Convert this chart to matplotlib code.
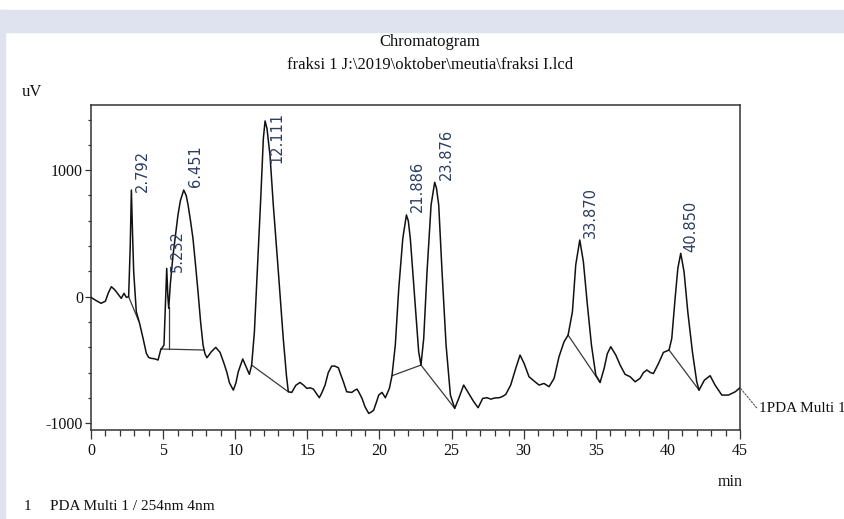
import numpy as np
import matplotlib
matplotlib.use("Agg")
import matplotlib.pyplot as plt
from matplotlib.patches import Rectangle
from matplotlib.transforms import offset_copy
from matplotlib.ticker import MultipleLocator

plt.rcParams["axes.unicode_minus"] = False

# retention time (min) and detector signal (uV)
time_min = [0.0, 0.35, 0.7, 1.0, 1.2, 1.41, 1.6, 1.75, 1.95, 2.1, 2.29, 2.45, 2.61,
            2.72, 2.80, 2.88, 2.96, 3.14, 3.37, 3.61, 3.84, 4.0, 4.18, 4.4, 4.65,
            4.83, 5.06, 5.15, 5.25, 5.33, 5.39, 5.5, 5.69, 5.85, 6.03, 6.2, 6.43,
            6.6, 6.73, 6.9, 7.07, 7.25, 7.42, 7.6, 7.77, 7.9, 8.04, 8.34, 8.65,
            8.95, 9.2, 9.41, 9.6, 9.87, 10.05, 10.21, 10.52, 10.8, 10.98, 11.14,
            11.33, 11.53, 11.77, 11.95, 12.07, 12.2, 12.41, 12.64, 12.99, 13.33,
            13.55, 13.68, 13.92, 14.2, 14.49, 14.75, 14.96, 15.2, 15.42, 15.6,
            15.83, 16.0, 16.23, 16.45, 16.69, 16.9, 17.15, 17.3, 17.5, 17.73,
            18.08, 18.3, 18.45, 18.6, 18.79, 19.0, 19.26, 19.45, 19.6, 19.8,
            19.95, 20.18, 20.41, 20.69, 20.87, 21.1, 21.34, 21.62, 21.87, 22.0,
            22.14, 22.45, 22.72, 22.88, 23.07, 23.3, 23.58, 23.83, 23.95, 24.11,
            24.34, 24.62, 24.92, 25.22, 25.5, 25.84, 26.19, 26.54, 26.84, 27.16,
            27.46, 27.72, 28.0, 28.29, 28.5, 28.76, 29.1, 29.45, 29.75, 30.03,
            30.37, 30.72, 31.07, 31.41, 31.76, 32.11, 32.45, 32.8, 33.08, 33.38,
            33.61, 33.89, 34.14, 34.42, 34.7, 35.0, 35.3, 35.58, 35.8, 36.04,
            36.39, 36.69, 37.03, 37.38, 37.73, 38.07, 38.3, 38.54, 38.8, 39.0,
            39.35, 39.69, 40.08, 40.27, 40.5, 40.69, 40.89, 41.12, 41.38, 41.7,
            42.0, 42.16, 42.53, 42.93, 43.27, 43.74, 44.2, 44.67, 45.0]
signal_uv = [-5, -30, -52, -35, 30, 79, 60, 40, 10, -13, 27, -5, 0,
             400, 843, 500, 198, -118, -211, -329, -448, -480, -487, -490, -500,
             -421, -382, -100, 224, 0, -92, 100, 330, 480, 646, 760, 843,
             800, 725, 600, 461, 250, 40, -200, -382, -450, -482, -435, -400,
             -440, -520, -593, -680, -738, -680, -593, -492, -566, -613, -540,
             -277, 198, 778, 1250, 1389, 1330, 1120, 725, 198, -329,
             -620, -751, -756, -700, -677, -700, -724, -720, -730, -760,
             -798, -760, -698, -600, -548, -548, -561, -610, -672, -751,
             -756, -738, -730, -760, -803, -870, -922, -910, -896, -830,
             -777, -756, -798, -724, -624, -382, 66, 461, 646, 600,
             461, -13, -435, -540, -329, 198, 725, 904, 860, 725,
             198, -382, -777, -882, -803, -698, -764, -830, -877, -803,
             -798, -809, -800, -798, -790, -772, -698, -566, -461, -527,
             -632, -666, -698, -685, -711, -645, -474, -356, -303, -119,
             251, 448, 277, -66, -382, -619, -677, -566, -450, -395,
             -461, -540, -613, -632, -672, -645, -600, -579, -600, -606,
             -527, -440, -421, -329, -13, 224, 343, 198, -119, -435,
             -672, -738, -659, -624, -698, -777, -777, -751, -719]

# integration baselines: (t_start, v_start, t_end, v_end)
baselines = [(2.61, 0, 3.3, -190),
             (4.83, -413, 7.84, -421),
             (5.39, -80, 5.39, -413),
             (11.14, -540, 13.68, -751),
             (20.87, -624, 22.88, -540),
             (22.88, -540, 25.22, -882),
             (33.08, -303, 35.3, -677),
             (40.08, -421, 42.16, -738)]

peak_rt = [2.792, 5.232, 6.451, 12.111, 21.886, 23.876, 33.870, 40.850]
peak_labels = ["2.792", "5.232", "6.451", "12.111", "21.886", "23.876", "33.870", "40.850"]

x_ticks = [0, 5, 10, 15, 20, 25, 30, 35, 40, 45]
y_ticks = [-1000, 0, 1000]

serif = "Liberation Serif"

fig = plt.figure(figsize=(8.45, 5.19), dpi=100)
fig.patch.set_facecolor("white")
# light frame of the screenshot
band = "#dfe2ef"
fig.patches.append(Rectangle((0, 1 - 31.5 / 519), 1, 21.5 / 519, transform=fig.transFigure,
                             color=band, zorder=-5))
fig.patches.append(Rectangle((0, 0), 5 / 845, 1 - 10 / 519, transform=fig.transFigure,
                             color=band, zorder=-5))

ax = fig.add_axes([91 / 845, 1 - 430 / 519, (740 - 91) / 845, (430 - 105) / 519])
ax.set_xlim(0, 45)
ax.set_ylim(-1053, 1515)

ax.plot(time_min, signal_uv, color="#111111", lw=1.1, zorder=3)
for t0, v0, t1, v1 in baselines:
    ax.plot([t0, t1], [v0, v1], color="#3a3a3a", lw=0.9, zorder=2)

# peak retention time labels
for rt, lab in zip(peak_rt, peak_labels):
    h = np.interp(rt, time_min, signal_uv)
    tr = offset_copy(ax.transData, fig=fig, x=11, y=4, units="dots")
    txt = ax.text(rt, h, lab, rotation=90, ha="center", va="bottom", transform=tr,
                  fontsize=10.5, color="#2b3d62", family="DejaVu Sans")
    fig.canvas.draw()
    bb = txt.get_window_extent()
    top_px = ax.transData.transform((0, 1462))[1]
    if bb.y1 > top_px:
        txt.set_va("top")
        txt.set_y(1462 - 4 * (ax.get_ylim()[1] - ax.get_ylim()[0]) / ax.bbox.height)

for s in ax.spines.values():
    s.set_color("#333333")
    s.set_linewidth(1.1)

ax.set_xticks(x_ticks)
ax.set_yticks(y_ticks)
ax.xaxis.set_minor_locator(MultipleLocator(1))
ax.yaxis.set_minor_locator(MultipleLocator(200))
ax.tick_params(axis="x", which="major", direction="out", length=6.5, width=0.9,
               color="#333333", pad=3)
ax.tick_params(axis="x", which="minor", direction="out", length=4.3, width=0.9,
               color="#333333")
ax.tick_params(axis="y", which="major", direction="out", length=4.3, width=0.9,
               color="#333333", pad=1.5)
ax.tick_params(axis="y", which="minor", direction="out", length=2.5, width=0.9,
               color="#333333")
for lbl in ax.get_xticklabels() + ax.get_yticklabels():
    lbl.set_family(serif)
    lbl.set_fontsize(11.5)
    lbl.set_color("#111111")

# trace name at the end of the curve
ax.annotate("1PDA Multi 1", xy=(45, signal_uv[-1]), xytext=(14, -15),
            textcoords="offset points", ha="left", va="center", family=serif,
            fontsize=11, color="#111111", annotation_clip=False,
            arrowprops=dict(arrowstyle="-", ls=(0, (1.5, 1.5)), color="#555555",
                            lw=0.8, shrinkA=0, shrinkB=1, relpos=(0, 0.3)))

fig.text(430 / 845, 1 - 42 / 519, "Chromatogram", ha="center", va="center",
         family=serif, fontsize=12, color="#111111")
fig.text(430 / 845, 1 - 65 / 519, "fraksi 1 J:\\2019\\oktober\\meutia\\fraksi I.lcd",
         ha="center", va="center", family=serif, fontsize=12, color="#111111")
fig.text(32 / 845, 1 - 92 / 519, "uV", ha="center", va="center", family=serif,
         fontsize=12, color="#111111")
fig.text(730 / 845, 1 - 482 / 519, "min", ha="center", va="center", family=serif,
         fontsize=11.5, color="#111111")
fig.text(27 / 845, 1 - 507 / 519, "1", ha="center", va="center", family=serif,
         fontsize=11, color="#111111")
fig.text(50 / 845, 1 - 507 / 519, "PDA Multi 1 / 254nm 4nm", ha="left", va="center",
         family=serif, fontsize=11, color="#111111")

fig.savefig("out.png", dpi=100, facecolor=fig.get_facecolor())
